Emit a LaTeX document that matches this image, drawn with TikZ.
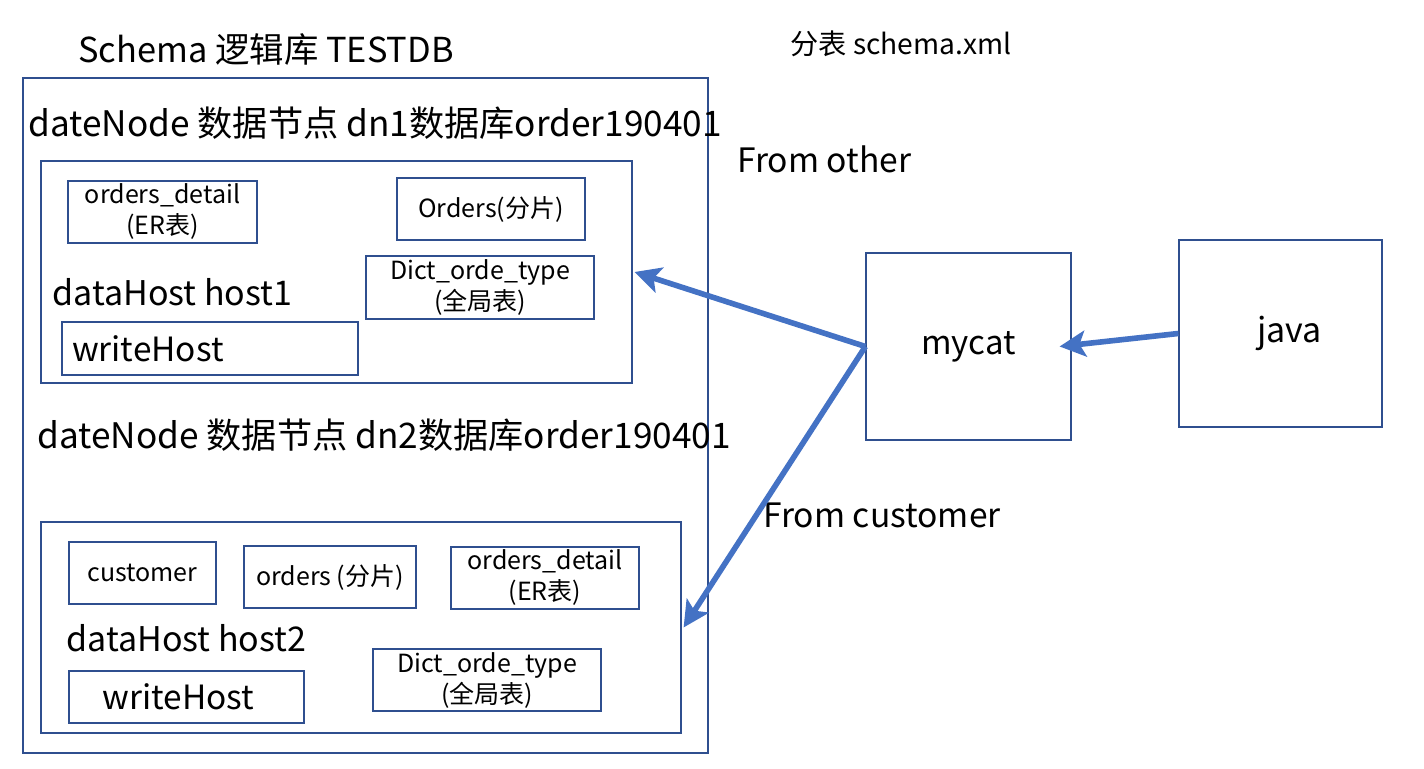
\documentclass[tikz,border=0pt]{standalone}
\usepackage{fontspec}
\setmainfont{Noto Sans CJK SC}
\usepackage{tikz}
\usetikzlibrary{shapes,arrows,arrows.meta,positioning,calc}
\usepackage{xcolor}
\definecolor{boxline}{HTML}{2F4F8F}
\definecolor{flowblue}{HTML}{4472C4}

\begin{document}
\begin{tikzpicture}[x=0.5pt,y=-0.5pt,
    box/.style={draw=boxline,line width=0.6pt,rectangle,inner sep=0pt,align=center,font=\fontsize{12.5}{15.5}\selectfont},
    big/.style={anchor=west,inner sep=0pt,font=\fontsize{17}{19}\selectfont},
    flow/.style={draw=flowblue,line width=2.8pt,-{Stealth[length=13pt,width=13pt,inset=3pt]}}]
                    \useasboundingbox (0,0) rectangle (1424,769);
                    % Schema
                    \node[big,font=\fontsize{17.2}{19}\selectfont] (schema) at (78,50) {Schema 逻辑库 TESTDB};
                    \node[big,font=\fontsize{14.1}{16}\selectfont] (xmlname) at (790,44) {分表 schema.xml};
                    \node[box,minimum width=342.5pt,minimum height=337.5pt] (outer) at (365.5,415.5) {};
                    
                    % dn1
                    \node[big,font=\fontsize{17.6}{19}\selectfont] (dnA) at (28,123) {dateNode 数据节点 dn1数据库order190401};
                    \node[box,minimum width=295.5pt,minimum height=111pt] (hostA) at (336.5,272) {};
                    \node[box,minimum width=94.5pt,minimum height=31pt] (detailA) at (162.5,212) {orders\_detail\\(ER表)};
                    \node[box,minimum width=94pt,minimum height=31pt] (ordersA) at (491,209) {Orders(分片)};
                    \node[box,minimum width=114pt,minimum height=31.5pt] (dictA) at (480,287.5) {Dict\_orde\_type\\(全局表)};
                    \node[big] (hostnameA) at (52,292) {dataHost host1};
                    \node[box,minimum width=148pt,minimum height=26.5pt,text width=138pt,align=left,font=\fontsize{16.7}{18}\selectfont] (writeA) at (210,348.5) {writeHost};
                    
                    % dn2
                    \node[big,font=\fontsize{17.6}{19}\selectfont] (dnB) at (37,435) {dateNode 数据节点 dn2数据库order190401};
                    \node[box,minimum width=320pt,minimum height=105.5pt] (hostB) at (361,627.5) {};
                    \node[box,minimum width=73.5pt,minimum height=31pt] (customer) at (142.5,573) {customer};
                    \node[box,minimum width=86pt,minimum height=31pt] (ordersB) at (330,577) {orders (分片)};
                    \node[box,minimum width=94pt,minimum height=31pt] (detailB) at (545,578) {orders\_detail\\(ER表)};
                    \node[big] (hostnameB) at (66,638) {dataHost host2};
                    \node[box,minimum width=117.5pt,minimum height=26pt,font=\fontsize{16.7}{18}\selectfont] (writeB) at (186.5,697) {\hspace*{-8pt}writeHost};
                    \node[box,minimum width=114pt,minimum height=31pt] (dictB) at (487,680) {Dict\_orde\_type\\(全局表)};
                    
                    % mycat and java
                    \node[box,minimum width=102.5pt,minimum height=93.5pt,font=\fontsize{16.5}{18}\selectfont] (mycat) at (968.5,346.5) {\raisebox{2pt}{mycat}};
                    \node[box,minimum width=101.5pt,minimum height=93.5pt,font=\fontsize{17}{18}\selectfont] (java) at (1280.5,333.5) {\hspace*{9pt}\raisebox{3pt}{java}};
                    \node[big,font=\fontsize{16.8}{18}\selectfont] (fromother) at (737,159) {From other};
                    \node[big,font=\fontsize{16.8}{18}\selectfont] (fromcustomer) at (763,515) {From customer};
                    
                    \draw[flow] (java.west) -- ([xshift=-6pt]mycat.east);
                    \draw[flow] (mycat.west) -- ([xshift=1pt]hostA.east);
                    \draw[flow] (mycat.west) -- ([xshift=1pt]hostB.east);
                \end{tikzpicture}
\end{document}
